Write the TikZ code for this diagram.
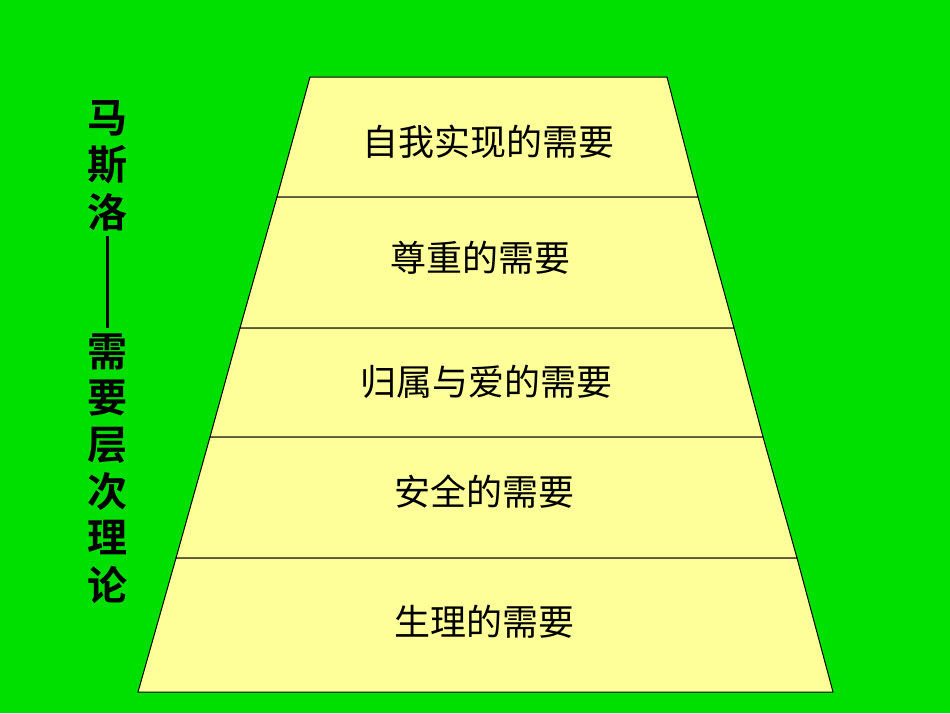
\documentclass[tikz,border=0pt]{standalone}
\usepackage{fontspec}
\newfontfamily\cjk{Noto Sans CJK SC}
\newfontfamily\cjkb{Noto Sans CJK SC Bold}
\definecolor{bg}{RGB}{0,224,0}
\definecolor{lvl}{RGB}{255,255,153}
\begin{document}
\begin{tikzpicture}[x=1pt,y=-1pt,
  lv/.style={fill=lvl,draw=black,line width=1pt},
  lab/.style={font=\cjk\fontsize{36}{36}\selectfont,inner sep=0pt},
  tt/.style={font=\cjkb\fontsize{40}{40}\selectfont,inner sep=0pt}]
\fill[bg] (0,0) rectangle (950,713);
\useasboundingbox (0,0) rectangle (950,713);
\draw[lv] (310,77) -- (667,77) -- (698,197) -- (277,197) -- cycle;
\draw[lv] (277,197) -- (698,197) -- (734,328) -- (240,328) -- cycle;
\draw[lv] (240,328) -- (734,328) -- (763,437) -- (210,437) -- cycle;
\draw[lv] (210,437) -- (763,437) -- (797,558) -- (176,558) -- cycle;
\draw[lv] (176,558) -- (797,558) -- (833,692) -- (138,692) -- cycle;
\node[lab] (l1) at (488,142) {自我实现的需要};
\node[lab] (l2) at (480,258) {尊重的需要};
\node[lab] (l3) at (486,382) {归属与爱的需要};
\node[lab] (l4) at (484,492) {安全的需要};
\node[lab] (l5) at (484,622) {生理的需要};
\foreach \c/\y in {马/118,斯/165,洛/212,需/352,要/398,层/445,次/491,理/538,论/585}
  \node[tt] at (107,\y) {\c};
\draw[line width=3pt] (107,236) -- (107,328);
\end{tikzpicture}
\end{document}
